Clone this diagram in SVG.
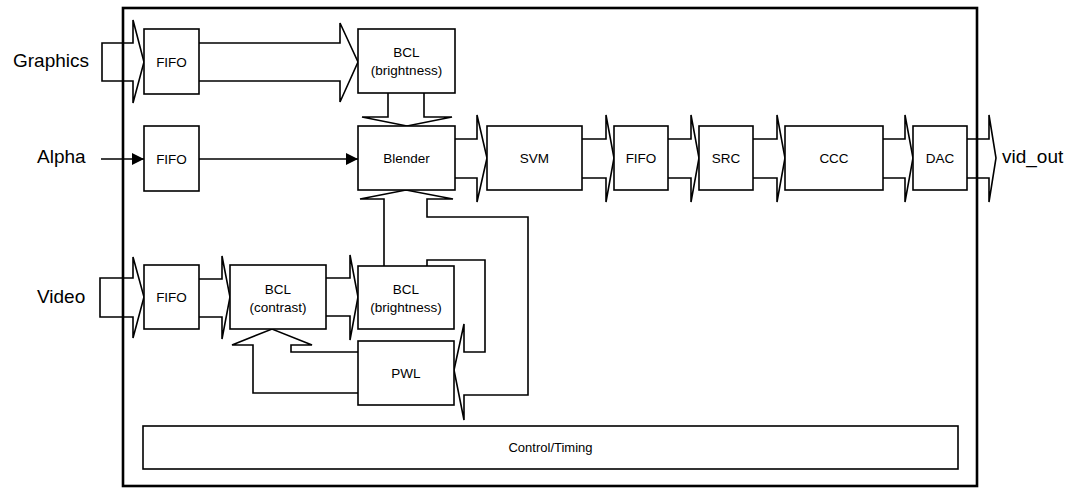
<svg xmlns="http://www.w3.org/2000/svg" width="1079" height="489" viewBox="0 0 1079 489">
<style>
.box{fill:#fff;stroke:#000;stroke-width:1.6}
.outer{fill:none;stroke:#000;stroke-width:2.6}
.conn{fill:none;stroke:#000;stroke-width:1.6;stroke-linejoin:miter}
.lbl{font-family:"Liberation Sans",Arial,Helvetica,sans-serif;font-size:13.5px;text-anchor:middle;fill:#000}
.big{font-family:"Liberation Sans",Arial,Helvetica,sans-serif;font-size:19px;fill:#000}
</style>
<defs>
<marker id="ah" markerUnits="userSpaceOnUse" markerWidth="12" markerHeight="12" refX="12" refY="6" orient="auto">
<path d="M0,0 L12,6 L0,12 Z" fill="#000"/>
</marker>
</defs>
<rect id="frame" class="outer" x="123" y="8" width="854" height="478"/>
<g id="labels">
<text class="big" x="13" y="67">Graphics</text>
<text class="big" x="37" y="163">Alpha</text>
<text class="big" x="37" y="303">Video</text>
<text class="big" x="1002" y="163">vid_out</text>
</g>
<g id="connectors">
<path class="conn" d="M102,43 H133 V20 L144,62 L133,103 V81 H102 Z"/>
<path class="conn" d="M199,43 H340 V23 L358,62 L340,102 V81 H199"/>
<path class="conn" d="M101,159 H144" marker-end="url(#ah)"/>
<path class="conn" d="M199,159 H358" marker-end="url(#ah)"/>
<path class="conn" d="M388,93 V117 H362 L407,126 L452,117 H424 V93"/>
<path class="conn" d="M455,139 H477 V115 L487,158 L477,202 V178 H455"/>
<path class="conn" d="M582,139 H606 V115 L614,158 L606,202 V178 H582"/>
<path class="conn" d="M668,139 H691 V115 L699,158 L691,202 V178 H668"/>
<path class="conn" d="M753,139 H777 V115 L785,158 L777,202 V178 H753"/>
<path class="conn" d="M883,139 H905 V115 L913,158 L905,202 V178 H883"/>
<path class="conn" d="M967,139 H989 V115 L996,158 L989,202 V178 H967"/>
<path class="conn" d="M100,278 H133 V257 L144,297 L133,338 V317 H100 Z"/>
<path class="conn" d="M199,279 H222 V256 L230,297 L222,339 V317 H199"/>
<path class="conn" d="M326,278 H350 V255 L358,297 L350,340 V316 H326"/>
<path class="conn" d="M358,352 H291 V345 H312 L272,329 L232,345 H253 V393 H358"/>
<path class="conn" d="M384,266 V199 H360 L406,190 L453,199 H427 V217 H528 V395 H464 V420 L454,370 L464,324 V352 H485 V260 H427 V266"/>
</g>
<g id="fifo_graphics"><rect class="box" x="144" y="29" width="55" height="65"/><text class="lbl" x="171.5" y="66.5">FIFO</text></g>
<g id="bcl_graphics"><rect class="box" x="358" y="29" width="97" height="64"/><text class="lbl" x="406.5" y="57">BCL</text><text class="lbl" x="406.5" y="75">(brightness)</text></g>
<g id="fifo_alpha"><rect class="box" x="144" y="126" width="55" height="65"/><text class="lbl" x="171.5" y="163.5">FIFO</text></g>
<g id="blender"><rect class="box" x="358" y="126" width="97" height="64"/><text class="lbl" x="406.5" y="163">Blender</text></g>
<g id="svm"><rect class="box" x="487" y="126" width="95" height="64"/><text class="lbl" x="534.5" y="163">SVM</text></g>
<g id="fifo_out"><rect class="box" x="614" y="126" width="54" height="64"/><text class="lbl" x="641" y="163">FIFO</text></g>
<g id="src"><rect class="box" x="699" y="126" width="54" height="64"/><text class="lbl" x="726" y="163">SRC</text></g>
<g id="ccc"><rect class="box" x="785" y="126" width="98" height="64"/><text class="lbl" x="834" y="163">CCC</text></g>
<g id="dac"><rect class="box" x="913" y="126" width="54" height="64"/><text class="lbl" x="940" y="163">DAC</text></g>
<g id="fifo_video"><rect class="box" x="144" y="265" width="55" height="64"/><text class="lbl" x="171.5" y="302">FIFO</text></g>
<g id="bcl_contrast"><rect class="box" x="230" y="265" width="96" height="64"/><text class="lbl" x="278" y="294">BCL</text><text class="lbl" x="278" y="312">(contrast)</text></g>
<g id="bcl_video"><rect class="box" x="358" y="266" width="96" height="63"/><text class="lbl" x="406" y="294">BCL</text><text class="lbl" x="406" y="312">(brightness)</text></g>
<g id="pwl"><rect class="box" x="358" y="341" width="96" height="64"/><text class="lbl" x="406" y="378">PWL</text></g>
<g id="control"><rect class="box" x="143" y="426" width="815" height="43"/><text class="lbl" x="550.5" y="452" style="font-size:13px">Control/Timing</text></g>
</svg>
